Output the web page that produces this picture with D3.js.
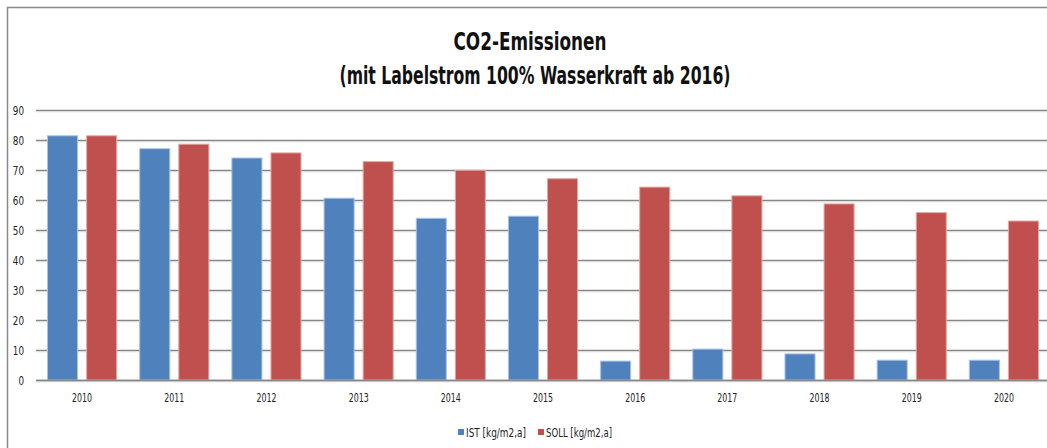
<!DOCTYPE html>
<html>
<head>
<meta charset="utf-8">
<script src="https://cdn.jsdelivr.net/npm/d3@7"></script>
<style>
  html, body { margin: 0; padding: 0; background: #fff; }
  svg { display: block; }
  text { font-family: "Liberation Sans Narrow", "DejaVu Sans Condensed", "Arial Narrow", sans-serif; }
</style>
</head>
<body>
<svg id="chart" width="1047" height="448"></svg>
<script>
// Emissions per year, kg/m2,a
const years = ["2010","2011","2012","2013","2014","2015","2016","2017","2018","2019","2020"];
const istValues  = [81.4, 77.1, 74.0, 60.6, 53.9, 54.6, 6.3, 10.3, 8.7, 6.6, 6.6];
const sollValues = [81.4, 78.6, 75.7, 72.8, 69.9, 67.1, 64.3, 61.4, 58.7, 55.8, 53.0];
const seriesNames = ["IST [kg/m2,a]", "SOLL [kg/m2,a]"];
const seriesColors = ["#4F81BD", "#C0504D"];
const seriesStrokes = ["#a9c3e4", "#e3a9a7"];
const yTicks = [0, 10, 20, 30, 40, 50, 60, 70, 80, 90];
const titleLines = ["CO2-Emissionen", "(mit Labelstrom 100% Wasserkraft ab 2016)"];

const svg = d3.select("#chart");

// Outer chart frame (continues past the right and bottom edges)
svg.append("rect")
  .attr("x", 7.5).attr("y", 7.5)
  .attr("width", 1100).attr("height", 500)
  .attr("fill", "#fff")
  .attr("stroke", "#8a8a8a")
  .attr("stroke-width", 1.5);

const x = d3.scaleBand().domain(years).range([36, 1050]).paddingInner(0).paddingOuter(0);
const xSub = d3.scaleBand().domain([0, 1]).range([0, x.bandwidth()]).paddingInner(0.205).paddingOuter(0.282);
const y = d3.scaleLinear().domain([0, 90]).range([380, 110]);

// Horizontal gridlines
const grid = svg.append("g");
grid.selectAll("line.g").data(yTicks).join("line")
  .attr("x1", 36).attr("x2", 1047)
  .attr("y1", d => y(d) + 0.5).attr("y2", d => y(d) + 0.5)
  .attr("stroke", "#868686").attr("stroke-width", 1.3);
grid.selectAll("line.s").data(yTicks).join("line")
  .attr("x1", 36).attr("x2", 1047)
  .attr("y1", d => y(d) + 1.8).attr("y2", d => y(d) + 1.8)
  .attr("stroke", "#dcdcdc").attr("stroke-width", 1);

// Y axis labels
const yAxis = d3.axisLeft(y).tickValues(yTicks).tickSize(0).tickPadding(0);
const yg = svg.append("g").attr("transform", "translate(24,0)").call(yAxis);
yg.select(".domain").remove();
yg.selectAll("text")
  .attr("font-size", 11.5).attr("fill", "#222").attr("dy", "0.35em")
  .attr("textLength", d => String(d).length * 5.6).attr("lengthAdjust", "spacingAndGlyphs");

// Bars
const series = [istValues, sollValues];
series.forEach((vals, si) => {
  svg.append("g").selectAll("rect").data(years).join("rect")
    .attr("x", (d) => x(d) + xSub(si) + 0.5)
    .attr("width", xSub.bandwidth() - 1)
    .attr("y", (d, i) => y(vals[i]))
    .attr("height", (d, i) => y(0) - y(vals[i]))
    .attr("fill", seriesColors[si])
    .attr("stroke", seriesStrokes[si])
    .attr("stroke-width", 1);
});

// Baseline
svg.append("line")
  .attr("x1", 36).attr("x2", 1047)
  .attr("y1", y(0) + 0.5).attr("y2", y(0) + 0.5)
  .attr("stroke", "#868686").attr("stroke-width", 1.5);

// X axis labels
const xAxis = d3.axisBottom(x).tickSize(0).tickPadding(0);
const xg = svg.append("g").attr("transform", "translate(0,394)").call(xAxis);
xg.select(".domain").remove();
xg.selectAll("text")
  .attr("font-size", 11.5).attr("fill", "#222")
  .attr("textLength", 20).attr("lengthAdjust", "spacingAndGlyphs");

// Title
svg.append("text")
  .attr("x", 530).attr("y", 50)
  .attr("text-anchor", "middle")
  .attr("font-size", 24).attr("font-weight", "bold").attr("fill", "#111")
  .attr("textLength", 153).attr("lengthAdjust", "spacingAndGlyphs")
  .text(titleLines[0]);
svg.append("text")
  .attr("x", 535).attr("y", 84)
  .attr("text-anchor", "middle")
  .attr("font-size", 24).attr("font-weight", "bold").attr("fill", "#111")
  .attr("textLength", 391).attr("lengthAdjust", "spacingAndGlyphs")
  .text(titleLines[1]);

// Legend
const legendItems = [
  { name: seriesNames[0], color: seriesColors[0], x: 458, w: 60 },
  { name: seriesNames[1], color: seriesColors[1], x: 538, w: 66 }
];
const lg = svg.append("g");
legendItems.forEach(it => {
  lg.append("rect").attr("x", it.x).attr("y", 429).attr("width", 6).attr("height", 6).attr("fill", it.color);
  lg.append("text").attr("x", it.x + 8).attr("y", 437)
    .attr("font-size", 12).attr("fill", "#222")
    .attr("textLength", it.w).attr("lengthAdjust", "spacingAndGlyphs")
    .text(it.name);
});
</script>
</body>
</html>
